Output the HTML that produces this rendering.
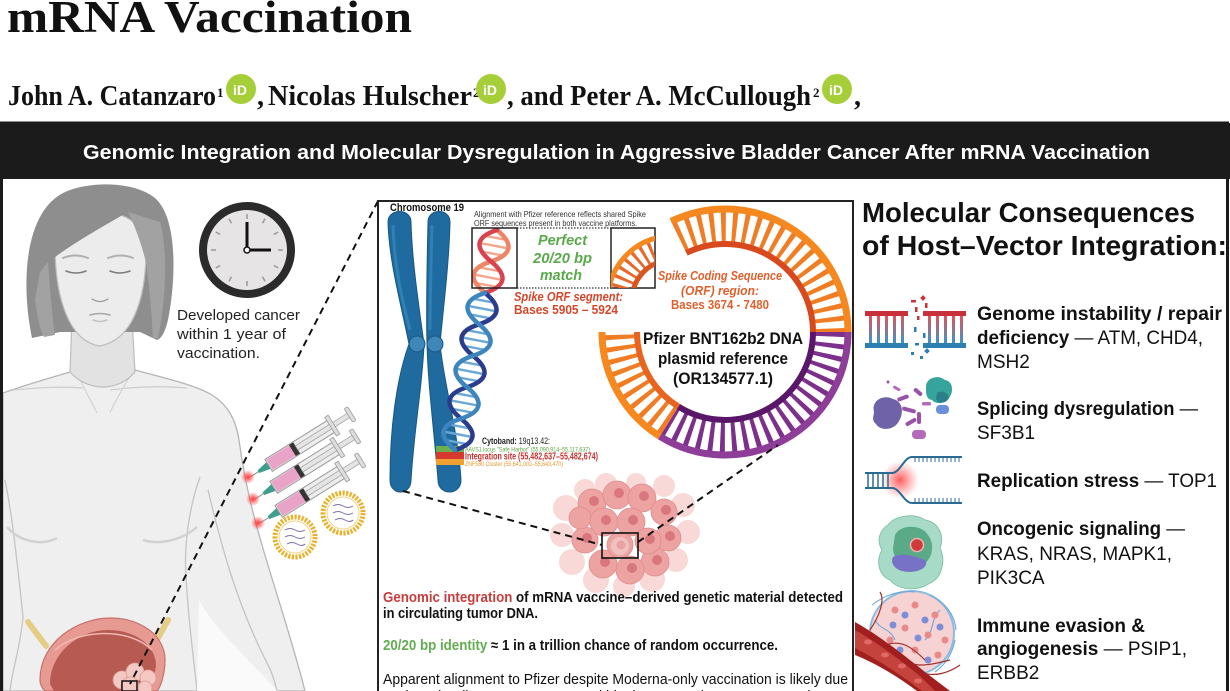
<!DOCTYPE html>
<html><head><meta charset="utf-8">
<style>
html,body{margin:0;padding:0;background:#fff}
body{width:1230px;height:691px;overflow:hidden}
svg{display:block}
text{font-family:"Liberation Sans",Arial,sans-serif}
.sf{font-family:"Liberation Serif","Times New Roman",serif}
</style></head><body>
<svg xmlns="http://www.w3.org/2000/svg" width="1230" height="691" viewBox="0 0 1230 691">
<defs>
 <radialGradient id="glow"><stop offset="0" stop-color="#ff2a2a" stop-opacity=".95"/><stop offset="1" stop-color="#ff2a2a" stop-opacity="0"/></radialGradient>
 <radialGradient id="glow2"><stop offset="0" stop-color="#ff3b3b" stop-opacity=".85"/><stop offset="1" stop-color="#ff6b6b" stop-opacity="0"/></radialGradient>
 <linearGradient id="rungG" gradientUnits="userSpaceOnUse" x1="0" y1="316" x2="0" y2="343"><stop offset="0" stop-color="#e0555b"/><stop offset="1" stop-color="#3b95c6"/></linearGradient>
 <clipPath id="b2"><rect x="611" y="228" width="44" height="60"/></clipPath>
</defs>
<rect width="1230" height="691" fill="#fff"/>

<!-- ===== HEADER ===== -->
<text class="sf" x="7" y="32" font-size="45" font-weight="700" fill="#111" textLength="405" lengthAdjust="spacingAndGlyphs">mRNA Vaccination</text>
<g class="sf" font-weight="700" fill="#111">
 <text class="sf" x="8" y="105" font-size="28" textLength="208" lengthAdjust="spacingAndGlyphs">John A. Catanzaro</text>
 <text class="sf" x="217" y="97" font-size="13">1</text>
 <text class="sf" x="257" y="105" font-size="28">,</text>
 <text class="sf" x="268" y="105" font-size="28" textLength="204" lengthAdjust="spacingAndGlyphs">Nicolas Hulscher</text>
 <text class="sf" x="473" y="97" font-size="13">2</text>
 <text class="sf" x="507" y="105" font-size="28" textLength="304" lengthAdjust="spacingAndGlyphs">, and Peter A. McCullough</text>
 <text class="sf" x="813" y="97" font-size="13">2</text>
 <text class="sf" x="854" y="105" font-size="28">,</text>
</g>
<g font-weight="700" fill="#fff" font-size="14">
 <circle cx="241" cy="89" r="15" fill="#a6ce39"/><text x="233" y="95">iD</text>
 <circle cx="491" cy="89" r="15" fill="#a6ce39"/><text x="483" y="95">iD</text>
 <circle cx="837" cy="89" r="15" fill="#a6ce39"/><text x="829" y="95">iD</text>
</g>

<!-- ===== FRAME / BAND ===== -->
<rect x="1.5" y="123" width="1226" height="600" fill="#fff" stroke="#1a1a1a" stroke-width="3"/>
<rect x="0" y="123" width="1230" height="56" fill="#1b1b1b"/>
<text x="83" y="159" font-size="20" font-weight="700" fill="#fff" textLength="1067" lengthAdjust="spacingAndGlyphs">Genomic Integration and Molecular Dysregulation in Aggressive Bladder Cancer After mRNA Vaccination</text>

<!-- ===== LEFT FIGURE ===== -->
<path d="M3,393 C25,385 50,378 70,372 L135,370 C165,378 195,385 212,395 C228,405 236,420 239,440 C243,470 250,505 262,545 C275,590 292,640 305,691 L3,691 Z" fill="#efefef" stroke="#b5b5b5" stroke-width="1.3"/>
<path d="M200,477 C188,510 184,550 186,575 C188,620 194,660 197,691" fill="none" stroke="#c4c4c4" stroke-width="1.3"/>
<path d="M208,490 C220,540 235,600 267,663 C272,672 275,682 277,691" fill="none" stroke="#c4c4c4" stroke-width="1.3"/>
<path d="M197,691 L199,600 C215,630 250,660 277,691 Z" fill="#fafafa"/>
<path d="M5,480 C10,505 14,530 23,617 C20,650 12,670 10,691" fill="none" stroke="#c4c4c4" stroke-width="1.3"/>
<path d="M7,527 C20,542 42,546 57,538" fill="none" stroke="#d2d2d2" stroke-width="2.5"/>
<path d="M143,540 C162,546 185,538 197,527" fill="none" stroke="#d2d2d2" stroke-width="2.5"/>
<path d="M13,390 C35,388 60,386 83,388 M110,390 C140,386 165,386 187,388" fill="none" stroke="#cfcfcf" stroke-width="1.3"/>
<path d="M77,372 C84,390 92,402 97,413 M133,370 C124,388 115,400 110,413" fill="none" stroke="#d4d4d4" stroke-width="1.2"/>
<path d="M72,318 L70,372 C88,392 118,392 135,372 L132,318 Z" fill="#e2e2e2" stroke="#bdbdbd" stroke-width="1.2"/>
<path d="M32,338 C20,280 25,205 70,190 C95,181 135,182 155,198 C178,218 176,280 168,320 C165,332 162,338 157,340 L140,332 L60,332 Z" fill="#8e8e8e"/>
<path d="M55,245 C55,225 70,212 100,212 C130,212 146,228 146,250 C146,300 132,340 100,346 C70,342 55,300 55,245 Z" fill="#ececec" stroke="#bdbdbd" stroke-width="1.2"/>
<path d="M40,272 L47,263 C70,245 100,228 128,212 C136,228 142,245 146,262 L152,205 C140,190 110,186 90,190 C60,196 45,220 40,272 Z" fill="#8e8e8e"/>
<path d="M128,212 C137,230 143,250 146,262 C150,290 152,320 153,338 L158,338 C166,300 168,250 160,222 Z" fill="#a2a2a2"/>
<path d="M35,300 C38,320 40,330 44,337 L55,335 C52,315 50,290 48,262 L40,272 Z" fill="#a2a2a2"/>
<g fill="none" stroke-linecap="round">
 <path d="M63,258 Q75,253 88,258 M108,258 Q121,253 133,258" stroke="#b0b0b0" stroke-width="2"/>
 <path d="M66,271 Q76,275 86,271 M110,271 Q120,275 130,271" stroke="#7a7a7a" stroke-width="1.5"/>
 <path d="M92,299 Q100,304 108,299" stroke="#9a9a9a" stroke-width="1.3"/>
 <path d="M90,315 Q100,312 110,315" stroke="#a5a5a5" stroke-width="1.5"/>
 <path d="M93,320 Q100,323 107,320" stroke="#c4c4c4" stroke-width="1.5"/>
</g>

<!-- clock -->
<circle cx="247" cy="250" r="44" fill="#e6e4e4" stroke="#2b2b2b" stroke-width="8"/>
<path d="M247,219V214 M262.5,223.2L265,218.8 M273.8,234.5L278.2,232 M278,250H283 M273.8,265.5L278.2,268 M262.5,276.8L265,281.2 M247,281V286 M231.5,276.8L229,281.2 M220.2,265.5L215.8,268 M216,250H211 M220.2,234.5L215.8,232 M231.5,223.2L229,218.8" stroke="#9a9a9a" stroke-width="1.5"/>
<path d="M247,250V222 M247,250H271" stroke="#111" stroke-width="3"/>
<circle cx="247" cy="250" r="3" fill="#fff" stroke="#111" stroke-width="1.5"/>
<g font-size="15" fill="#222">
 <text x="177" y="320" textLength="123" lengthAdjust="spacingAndGlyphs">Developed cancer</text>
 <text x="177" y="339" textLength="109" lengthAdjust="spacingAndGlyphs">within 1 year of</text>
 <text x="177" y="358" textLength="83" lengthAdjust="spacingAndGlyphs">vaccination.</text>
</g>

<!-- syringes -->
<g id="syr">
<g transform="translate(250,477) rotate(-32)">
 <line x1="0" y1="0" x2="12" y2="0" stroke="#8a8a8a" stroke-width="1"/>
 <path d="M10,-1.5 L22,-4 L22,4 L10,1.5 Z" fill="#3f9f8e"/>
 <rect x="22" y="-7" width="74" height="14" fill="#ededed" stroke="#9b9b9b"/>
 <rect x="23" y="-6" width="28" height="12" fill="#e9a3c6"/>
 <rect x="50" y="-6.5" width="5" height="13" fill="#333"/>
 <rect x="55" y="-2.5" width="62" height="5" fill="#e4e4e4" stroke="#a5a5a5" stroke-width=".8"/>
 <rect x="95" y="-11" width="4" height="22" fill="#dedede" stroke="#9b9b9b" stroke-width=".8"/>
 <rect x="116" y="-8" width="4" height="16" rx="1.5" fill="#dedede" stroke="#9b9b9b" stroke-width=".8"/>
</g>
<g transform="translate(255,499) rotate(-32)">
 <line x1="0" y1="0" x2="12" y2="0" stroke="#8a8a8a" stroke-width="1"/>
 <path d="M10,-1.5 L22,-4 L22,4 L10,1.5 Z" fill="#3f9f8e"/>
 <rect x="22" y="-7" width="74" height="14" fill="#ededed" stroke="#9b9b9b"/>
 <rect x="23" y="-6" width="28" height="12" fill="#e9a3c6"/>
 <rect x="50" y="-6.5" width="5" height="13" fill="#333"/>
 <rect x="55" y="-2.5" width="62" height="5" fill="#e4e4e4" stroke="#a5a5a5" stroke-width=".8"/>
 <rect x="95" y="-11" width="4" height="22" fill="#dedede" stroke="#9b9b9b" stroke-width=".8"/>
 <rect x="116" y="-8" width="4" height="16" rx="1.5" fill="#dedede" stroke="#9b9b9b" stroke-width=".8"/>
</g>
<g transform="translate(260,523) rotate(-32)">
 <line x1="0" y1="0" x2="12" y2="0" stroke="#8a8a8a" stroke-width="1"/>
 <path d="M10,-1.5 L22,-4 L22,4 L10,1.5 Z" fill="#3f9f8e"/>
 <rect x="22" y="-7" width="74" height="14" fill="#ededed" stroke="#9b9b9b"/>
 <rect x="23" y="-6" width="28" height="12" fill="#e9a3c6"/>
 <rect x="50" y="-6.5" width="5" height="13" fill="#333"/>
 <rect x="55" y="-2.5" width="62" height="5" fill="#e4e4e4" stroke="#a5a5a5" stroke-width=".8"/>
 <rect x="95" y="-11" width="4" height="22" fill="#dedede" stroke="#9b9b9b" stroke-width=".8"/>
 <rect x="116" y="-8" width="4" height="16" rx="1.5" fill="#dedede" stroke="#9b9b9b" stroke-width=".8"/>
</g>
</g>
<circle cx="248" cy="477" r="7" fill="url(#glow)"/>
<circle cx="253" cy="499" r="7" fill="url(#glow)"/>
<circle cx="258" cy="523" r="7" fill="url(#glow)"/>
<!-- LNPs -->
<g>
 <circle cx="295" cy="537" r="20" fill="#fff" stroke="#e9b22c" stroke-width="5" stroke-dasharray="2.2 1.4"/>
 <circle cx="295" cy="537" r="16" fill="none" stroke="#f3d27a" stroke-width="1"/>
 <path d="M285,530 q5,-3 10,0 t10,0 M285,537 q5,-3 10,0 t10,0 M287,544 q5,-3 10,0 t8,0" fill="none" stroke="#7c6fa8" stroke-width="1"/>
 <circle cx="343" cy="513" r="20" fill="#fff" stroke="#e9b22c" stroke-width="5" stroke-dasharray="2.2 1.4"/>
 <circle cx="343" cy="513" r="16" fill="none" stroke="#f3d27a" stroke-width="1"/>
 <path d="M333,506 q5,-3 10,0 t10,0 M333,513 q5,-3 10,0 t10,0 M335,520 q5,-3 10,0 t8,0" fill="none" stroke="#7c6fa8" stroke-width="1"/>
</g>
<!-- bladder -->
<path d="M28,622 L46,646 M168,620 L154,645" stroke="#e6cd86" stroke-width="6" stroke-linecap="round"/>
<path d="M40,680 C40,640 80,618 110,618 C140,618 165,635 165,660 C165,675 160,688 157,691 L45,691 C42,688 40,684 40,680 Z" fill="#e79a92" stroke="#c7706a" stroke-width="1.2"/>
<path d="M50,684 C50,652 80,630 108,630 C135,630 156,645 156,666 L151,691 L54,691 Z" fill="#b65a52"/>
<path d="M55,650 C80,628 130,628 152,650" fill="none" stroke="#f0b8b0" stroke-width="1.5"/>
<g fill="#f4c8c3" stroke="#dc9b96" stroke-width=".8">
 <circle cx="122" cy="680" r="9"/><circle cx="135" cy="672" r="9"/><circle cx="148" cy="678" r="8"/><circle cx="130" cy="686" r="9"/><circle cx="145" cy="688" r="7"/>
</g>
<rect x="122" y="681" width="15" height="10" fill="none" stroke="#111" stroke-width="1.5"/>
<line x1="378" y1="201" x2="130" y2="684" stroke="#111" stroke-width="2" stroke-dasharray="7 5"/>

<!-- ===== CENTER BOX ===== -->
<rect x="378" y="201" width="475" height="520" fill="none" stroke="#222" stroke-width="2"/>
<text x="390" y="211" font-size="11" font-weight="700" fill="#111" textLength="74" lengthAdjust="spacingAndGlyphs">Chromosome 19</text>
<text x="474" y="217" font-size="8.5" fill="#333" textLength="172" lengthAdjust="spacingAndGlyphs">Alignment with Pfizer reference reflects shared Spike</text>
<text x="474" y="226" font-size="8.5" fill="#333" textLength="163" lengthAdjust="spacingAndGlyphs">ORF sequences present in both vaccine platforms.</text>

<!-- chromosome -->
<path d="M388,222 C388,208 411,208 411,222 C412,260 418,300 424,344 C423,380 414,430 411,480 C411,496 390,496 390,480 C390,430 396,380 409,344 C400,300 389,260 388,222 Z" fill="#1f6b9f" stroke="#185783" stroke-width="1"/>
<path d="M428,222 C428,208 450,208 450,222 C449,265 443,310 440,344 C444,385 458,430 461,480 C461,496 438,496 438,480 C434,430 428,385 427,344 C426,310 427,265 428,222 Z" fill="#1f6b9f" stroke="#185783" stroke-width="1"/>
<path d="M393,225 C394,265 402,300 410,330" fill="none" stroke="#2f80b5" stroke-width="3"/>
<path d="M432,225 C431,265 430,300 430,330" fill="none" stroke="#2f80b5" stroke-width="3"/>
<circle cx="417" cy="344" r="8" fill="#3d88b9" stroke="#185783" stroke-width="1"/>
<circle cx="435" cy="344" r="8" fill="#3d88b9" stroke="#185783" stroke-width="1"/>
<rect x="436" y="446" width="28" height="6" fill="#6ab04c"/>
<rect x="436" y="452" width="28" height="7" fill="#d63a2f"/>
<rect x="436" y="459" width="28" height="6" fill="#f0a030"/>
<text x="482" y="444" font-size="9.5" fill="#222" textLength="68" lengthAdjust="spacingAndGlyphs"><tspan font-weight="700">Cytoband:</tspan> 19q13.42:</text>
<text x="465" y="451.5" font-size="6.5" fill="#5aa63c" textLength="125" lengthAdjust="spacingAndGlyphs">AAVS1 locus "Safe Harbor" (55,090,914–55,117,637)</text>
<text x="465" y="459.5" font-size="10.5" font-weight="700" fill="#c8302c" textLength="133" lengthAdjust="spacingAndGlyphs">Integration site (55,482,637–55,482,674)</text>
<text x="465" y="466" font-size="6.5" fill="#e8962a" textLength="98" lengthAdjust="spacingAndGlyphs">ZNF580 Cluster (55,641,002–55,643,470)</text>

<!-- helix -->
<g transform="translate(497,230) rotate(10.8)" fill="none" stroke-linecap="round">
 <path d="M-10,8H10M-14,16H14M-10,24H10M-10,40H10M-14,48H14M-10,56H10" stroke="#f5a58c" stroke-width="2.4"/>
 <path d="M-10,72H10M-14,80H14M-10,88H10M-10,104H10M-14,112H14M-10,120H10M-10,136H10M-14,144H14M-10,152H10M-10,168H10M-14,176H14M-10,184H10M-10,200H10M-14,208H14M-10,216H10" stroke="#6aa8d8" stroke-width="2.4"/>
 <path d="M0,0 C19.5,10.6 19.5,21.4 0,32 C-19.5,42.6 -19.5,53.4 0,64" stroke="#ee8566" stroke-width="4.5"/>
 <path d="M0,0 C-19.5,10.6 -19.5,21.4 0,32 C19.5,42.6 19.5,53.4 0,64" stroke="#d9434f" stroke-width="4.5"/>
 <path d="M0,64 C19.5,74.6 19.5,85.4 0,96 C-19.5,106.6 -19.5,117.4 0,128 C19.5,138.6 19.5,149.4 0,160 C-19.5,170.6 -19.5,181.4 0,192 C19.5,202.6 19.5,213.4 0,224" stroke="#2c3c8c" stroke-width="4.5"/>
 <path d="M0,64 C-19.5,74.6 -19.5,85.4 0,96 C19.5,106.6 19.5,117.4 0,128 C-19.5,138.6 -19.5,149.4 0,160 C19.5,170.6 19.5,181.4 0,192 C-19.5,202.6 -19.5,213.4 0,224" stroke="#3d86bd" stroke-width="4.5"/>
</g>
<rect x="472" y="228" width="45" height="60" fill="none" stroke="#222" stroke-width="1.5"/>
<rect x="611" y="228" width="44" height="60" fill="none" stroke="#222" stroke-width="1.5"/>
<path d="M517,228H611 M517,288H611" stroke="#333" stroke-width="1.3" stroke-dasharray="1.5 1.5"/>
<g clip-path="url(#b2)" fill="none">
 <path d="M620.1,296.4 A52,52 0 0 1 664.8,248.5" stroke="#e9672a" stroke-width="24" stroke-dasharray="3 5"/>
 <path d="M608.2,295.5 A64,64 0 0 1 663.1,236.6" stroke="#f5891f" stroke-width="5"/>
 <path d="M632.1,297.2 A40,40 0 0 1 666.4,260.4" stroke="#d9561f" stroke-width="5"/>
</g>
<g font-weight="700" font-style="italic" fill="#5aa94a" font-size="15">
 <text x="538" y="245" textLength="49" lengthAdjust="spacingAndGlyphs">Perfect</text>
 <text x="533" y="263" textLength="59" lengthAdjust="spacingAndGlyphs">20/20 bp</text>
 <text x="540" y="280" textLength="42" lengthAdjust="spacingAndGlyphs">match</text>
</g>
<text x="514" y="301" font-size="13" font-weight="700" font-style="italic" fill="#d4462a" textLength="109" lengthAdjust="spacingAndGlyphs">Spike ORF segment:</text>
<text x="514" y="314" font-size="13" font-weight="700" fill="#d4462a" textLength="104" lengthAdjust="spacingAndGlyphs">Bases 5905 – 5924</text>

<!-- plasmid -->
<g fill="none">
 <path d="M678.7,237.2 A105.5,105.5 0 0 1 830.5,332" stroke="#f07d24" stroke-width="35" stroke-dasharray="4.5 6.55"/>
 <path d="M830.5,332 A105.5,105.5 0 0 1 669.1,421.5" stroke="#7d2f8c" stroke-width="35" stroke-dasharray="4.5 6.55"/>
 <path d="M669.1,421.5 A105.5,105.5 0 0 1 619.5,332" stroke="#f07d24" stroke-width="35" stroke-dasharray="4.5 6.55"/>
 <path d="M671.1,221.4 A123,123 0 0 1 848,332" stroke="#f5891f" stroke-width="7"/>
 <path d="M848,332 A123,123 0 0 1 659.8,436.3" stroke="#8e3d99" stroke-width="7"/>
 <path d="M659.8,436.3 A123,123 0 0 1 602,332" stroke="#f5891f" stroke-width="7"/>
 <path d="M686.4,252.9 A88,88 0 0 1 813,332" stroke="#d84a1e" stroke-width="6"/>
 <path d="M813,332 A88,88 0 0 1 678.4,406.6" stroke="#5a1668" stroke-width="6"/>
 <path d="M678.4,406.6 A88,88 0 0 1 637,332" stroke="#e8641f" stroke-width="6"/>
</g>
<g font-size="13" font-weight="700" fill="#e0602c" text-anchor="middle">
 <text x="720" y="280" font-style="italic" textLength="124" lengthAdjust="spacingAndGlyphs">Spike Coding Sequence</text>
 <text x="720" y="295" font-style="italic" textLength="78" lengthAdjust="spacingAndGlyphs">(ORF) region:</text>
 <text x="720" y="309" textLength="98" lengthAdjust="spacingAndGlyphs">Bases 3674 - 7480</text>
</g>
<g font-size="17" font-weight="700" fill="#111" text-anchor="middle">
 <text x="723" y="344" textLength="160" lengthAdjust="spacingAndGlyphs">Pfizer BNT162b2 DNA</text>
 <text x="723" y="364" textLength="130" lengthAdjust="spacingAndGlyphs">plasmid reference</text>
 <text x="723" y="384" textLength="100" lengthAdjust="spacingAndGlyphs">(OR134577.1)</text>
</g>

<!-- tumor cluster -->
<g fill="#f8d9d7">
 <circle cx="566" cy="508" r="13"/><circle cx="562" cy="535" r="12"/><circle cx="572" cy="562" r="13"/><circle cx="596" cy="580" r="13"/><circle cx="624" cy="586" r="11"/><circle cx="652" cy="579" r="13"/><circle cx="676" cy="560" r="12"/><circle cx="688" cy="532" r="12"/><circle cx="683" cy="505" r="12"/><circle cx="664" cy="486" r="11"/><circle cx="636" cy="483" r="10"/><circle cx="606" cy="484" r="11"/><circle cx="585" cy="490" r="11"/>
</g>
<g fill="#eda3a1" stroke="#dd8d8d" stroke-width=".8">
 <circle cx="592" cy="503" r="14"/><circle cx="617" cy="495" r="14"/><circle cx="642" cy="498" r="14"/><circle cx="664" cy="512" r="13"/><circle cx="668" cy="538" r="13"/><circle cx="655" cy="562" r="14"/><circle cx="630" cy="570" r="14"/><circle cx="603" cy="564" r="14"/><circle cx="585" cy="540" r="13"/><circle cx="580" cy="518" r="11"/><circle cx="604" cy="522" r="14"/><circle cx="631" cy="522" r="14"/><circle cx="648" cy="541" r="13"/><circle cx="620" cy="545" r="13"/>
</g>
<g fill="#d8777d">
 <circle cx="594" cy="501" r="5"/><circle cx="619" cy="493" r="5"/><circle cx="644" cy="496" r="5"/><circle cx="666" cy="510" r="5"/><circle cx="670" cy="536" r="5"/><circle cx="657" cy="560" r="5"/><circle cx="632" cy="568" r="5"/><circle cx="605" cy="562" r="5"/><circle cx="587" cy="538" r="5"/><circle cx="606" cy="520" r="5"/><circle cx="633" cy="520" r="5"/><circle cx="650" cy="539" r="5"/>
</g>
<circle cx="620" cy="546" r="9" fill="#f2c0be"/><circle cx="621" cy="545" r="4.5" fill="#e6a3a3"/>
<rect x="602" y="533" width="36" height="25" fill="none" stroke="#111" stroke-width="1.6"/>
<line x1="403" y1="491" x2="602" y2="545" stroke="#111" stroke-width="2" stroke-dasharray="7 5"/>
<line x1="638" y1="542" x2="778" y2="445" stroke="#111" stroke-width="2" stroke-dasharray="7 5"/>

<!-- bottom text -->
<text x="383" y="602" font-size="14.5" font-weight="700" fill="#111" textLength="460" lengthAdjust="spacingAndGlyphs"><tspan fill="#c93c3c">Genomic integration</tspan> of mRNA vaccine–derived genetic material detected</text>
<text x="383" y="618" font-size="14.5" font-weight="700" fill="#111" textLength="155" lengthAdjust="spacingAndGlyphs">in circulating tumor DNA.</text>
<text x="383" y="650" font-size="14.5" font-weight="700" fill="#111" textLength="395" lengthAdjust="spacingAndGlyphs"><tspan fill="#62ad4f">20/20 bp identity</tspan> ≈ 1 in a trillion chance of random occurrence.</text>
<text x="383" y="684" font-size="15" fill="#111" textLength="465" lengthAdjust="spacingAndGlyphs">Apparent alignment to Pfizer despite Moderna-only vaccination is likely due</text>
<text x="383" y="701" font-size="15" fill="#111" textLength="465" lengthAdjust="spacingAndGlyphs">to shared Spike ORF sequences within the expression cassette; Moderna's</text>

<!-- ===== RIGHT PANEL ===== -->
<text x="862" y="222" font-size="28" font-weight="700" fill="#111" textLength="333" lengthAdjust="spacingAndGlyphs">Molecular Consequences</text>
<text x="862" y="255" font-size="28" font-weight="700" fill="#111" textLength="365" lengthAdjust="spacingAndGlyphs">of Host–Vector Integration:</text>

<g font-size="19" fill="#111">
 <text x="977" y="320" font-weight="700" textLength="245" lengthAdjust="spacingAndGlyphs">Genome instability / repair</text>
 <text x="977" y="344" textLength="226" lengthAdjust="spacingAndGlyphs"><tspan font-weight="700">deficiency</tspan> — ATM, CHD4,</text>
 <text x="977" y="368">MSH2</text>
 <text x="977" y="415" textLength="221" lengthAdjust="spacingAndGlyphs"><tspan font-weight="700">Splicing dysregulation</tspan> —</text>
 <text x="977" y="439">SF3B1</text>
 <text x="977" y="487" textLength="240" lengthAdjust="spacingAndGlyphs"><tspan font-weight="700">Replication stress</tspan> — TOP1</text>
 <text x="977" y="535" textLength="208" lengthAdjust="spacingAndGlyphs"><tspan font-weight="700">Oncogenic signaling</tspan> —</text>
 <text x="977" y="560" textLength="195" lengthAdjust="spacingAndGlyphs">KRAS, NRAS, MAPK1,</text>
 <text x="977" y="584">PIK3CA</text>
 <text x="977" y="632" font-weight="700" textLength="168" lengthAdjust="spacingAndGlyphs">Immune evasion &amp;</text>
 <text x="977" y="655" textLength="210" lengthAdjust="spacingAndGlyphs"><tspan font-weight="700">angiogenesis</tspan> — PSIP1,</text>
 <text x="977" y="679">ERBB2</text>
</g>

<!-- icon 1: broken DNA -->
<g>
 <g fill="url(#rungG)">
  <rect x="869" y="316" width="3" height="27"/><rect x="877" y="316" width="3" height="27"/><rect x="885" y="316" width="3" height="27"/><rect x="893" y="316" width="3" height="27"/><rect x="901" y="316" width="3" height="27"/>
  <rect x="928" y="316" width="3" height="27"/><rect x="936" y="316" width="3" height="27"/><rect x="944" y="316" width="3" height="27"/><rect x="952" y="316" width="3" height="27"/><rect x="960" y="316" width="3" height="27"/>
 </g>
 <rect x="865" y="311" width="43" height="5" fill="#c9313a"/>
 <rect x="923" y="311" width="43" height="5" fill="#c9313a"/>
 <rect x="865" y="343" width="43" height="5" fill="#2c7fb0"/>
 <rect x="923" y="343" width="43" height="5" fill="#2c7fb0"/>
 <g fill="#c9313a">
  <rect x="911" y="300" width="5" height="2.5"/><rect x="921" y="296" width="4" height="4" transform="rotate(45 923 298)"/><rect x="915" y="307" width="2.5" height="5"/><rect x="925" y="303" width="2.5" height="5"/><rect x="917" y="316" width="2.5" height="4"/>
 </g>
 <g fill="#2c7fb0">
  <rect x="914" y="327" width="2.5" height="5"/><rect x="923" y="333" width="2.5" height="5"/><rect x="915" y="343" width="4" height="2.5"/><rect x="925" y="349" width="4" height="4" transform="rotate(45 927 351)"/><rect x="911" y="352" width="3" height="3"/><rect x="920" y="356" width="3" height="3"/>
 </g>
</g>

<!-- icon 2: splicing -->
<g>
 <path d="M874,412 C871,400 884,394 893,399 C903,401 904,413 899,421 C894,431 880,431 876,424 C871,420 874,416 874,412 Z" fill="#6f62a8"/>
 <path d="M926,388 C925,378 938,374 945,380 C953,381 954,392 949,398 C944,405 935,404 932,400 C926,399 926,393 926,388 Z" fill="#36a39c"/>
 <path d="M937,393 C941,390 948,392 949,398 C946,404 938,404 936,399 Z" fill="#2b7f86"/>
 <g fill="#9a52a8">
  <rect x="897" y="396" width="12" height="4" rx="2" transform="rotate(-20 903 398)"/>
  <rect x="902" y="408" width="14" height="4" rx="2" transform="rotate(15 909 410)"/>
  <rect x="913" y="390" width="10" height="4" rx="2" transform="rotate(40 918 392)"/>
  <rect x="905" y="420" width="12" height="4" rx="2" transform="rotate(-30 911 422)"/>
  <rect x="917" y="412" width="4" height="12" rx="2"/>
 </g>
 <g fill="#b36bb9">
  <rect x="893" y="387" width="8" height="3" rx="1.5" transform="rotate(30 897 388)"/>
  <rect x="922" y="402" width="9" height="3.5" rx="1.5"/>
  <rect x="912" y="430" width="14" height="9" rx="4"/>
 </g>
 <rect x="936" y="405" width="13" height="9" rx="4" fill="#6b8fd8"/>
 <circle cx="888" cy="382" r="1.5" fill="#9a52a8"/>
</g>

<!-- icon 3: replication fork -->
<g>
 <circle cx="900" cy="480" r="19" fill="url(#glow2)"/>
 <g fill="none" stroke="#2a6a92" stroke-width="2">
  <path d="M865,473 H892 C900,473 904,457 912,457 H962"/>
  <path d="M865,488 H892 C900,488 904,503 912,503 H962"/>
  <path d="M868,473V488 M873,473V488 M878,473V488 M883,473V488 M888,473V488" stroke-width="1.5"/>
  <path d="M915,457V462 M919,457V462 M923,457V462 M927,457V462 M931,457V462 M935,457V462 M939,457V462 M943,457V462 M947,457V462 M951,457V462 M955,457V462 M959,457V462" stroke-width="1"/>
  <path d="M915,498V503 M919,498V503 M923,498V503 M927,498V503 M931,498V503 M935,498V503 M939,498V503 M943,498V503 M947,498V503 M951,498V503 M955,498V503 M959,498V503" stroke-width="1"/>
 </g>
</g>

<!-- icon 4: oncogenic protein -->
<g>
 <path d="M888,525 C895,515 915,513 925,520 C938,522 945,535 940,548 C946,560 942,578 930,583 C918,592 898,590 890,580 C878,575 876,560 882,550 C876,540 880,530 888,525 Z" fill="#a7dbc7" stroke="#86c2aa" stroke-width="1"/>
 <path d="M895,535 C900,524 922,524 928,535 C936,545 932,562 920,566 C905,570 893,560 893,548 Z" fill="#5aa987"/>
 <path d="M893,557 C900,552 918,556 926,561 C928,569 915,574 902,571 C894,569 890,562 893,557 Z" fill="#7872c6"/>
 <circle cx="917" cy="545" r="6.5" fill="#cd3b3b" stroke="#f3b0b0" stroke-width="1.5"/>
</g>

<!-- icon 5: tumor + vessels -->
<g>
 <circle cx="912" cy="633" r="42" fill="#f6d2d3" stroke="#8bbbe0" stroke-width="2"/>
 <g fill="none" stroke="#6fa8d8" stroke-width="1.1">
  <path d="M872,605 C885,595 900,590 915,592 M930,595 C945,602 955,615 956,630 M955,640 C952,655 945,665 935,672 M875,620 C880,630 890,628 895,640 M940,610 C930,620 935,630 925,640"/>
 </g>
 <g fill="#e88a8a">
  <circle cx="895" cy="610" r="3.5"/><circle cx="915" cy="605" r="3.5"/><circle cx="935" cy="615" r="3.5"/><circle cx="905" cy="628" r="3.5"/><circle cx="928" cy="635" r="3.5"/><circle cx="945" cy="640" r="3.5"/><circle cx="890" cy="640" r="3.5"/><circle cx="915" cy="650" r="3.5"/><circle cx="938" cy="655" r="3.5"/>
 </g>
 <g fill="#7c8fd6">
  <circle cx="905" cy="615" r="3.5"/><circle cx="925" cy="620" r="3.5"/><circle cx="893" cy="625" r="3.5"/><circle cx="918" cy="638" r="3.5"/><circle cx="940" cy="627" r="3.5"/><circle cx="900" cy="650" r="3.5"/><circle cx="928" cy="660" r="3.5"/>
 </g>
 <g fill="none" stroke="#a0302b" stroke-width="1.2">
  <path d="M870,630 C880,615 885,600 880,592 M885,645 C900,640 910,645 925,660 M900,655 C910,670 930,665 950,660 M920,672 C935,678 950,672 960,665"/>
 </g>
 <path d="M855,622 C880,636 905,656 925,672 L950,691 L917,691 C897,676 875,663 855,655 Z" fill="#a11f1f"/>
 <path d="M855,630 C878,643 900,660 920,676 L935,691 L922,691 C900,674 878,660 855,648 Z" fill="#c4433d"/>
 <g fill="#e06a63"><ellipse cx="868" cy="642" rx="4" ry="2.5"/><ellipse cx="885" cy="655" rx="4" ry="2.5"/><ellipse cx="902" cy="666" rx="4" ry="2.5"/><ellipse cx="918" cy="681" rx="4" ry="2.5"/></g>
</g>

<!-- frame right/left borders on top -->
<line x1="1.5" y1="178" x2="1.5" y2="691" stroke="#1a1a1a" stroke-width="3"/>
<line x1="1227.5" y1="178" x2="1227.5" y2="691" stroke="#1a1a1a" stroke-width="3"/>
</svg>
</body></html>
